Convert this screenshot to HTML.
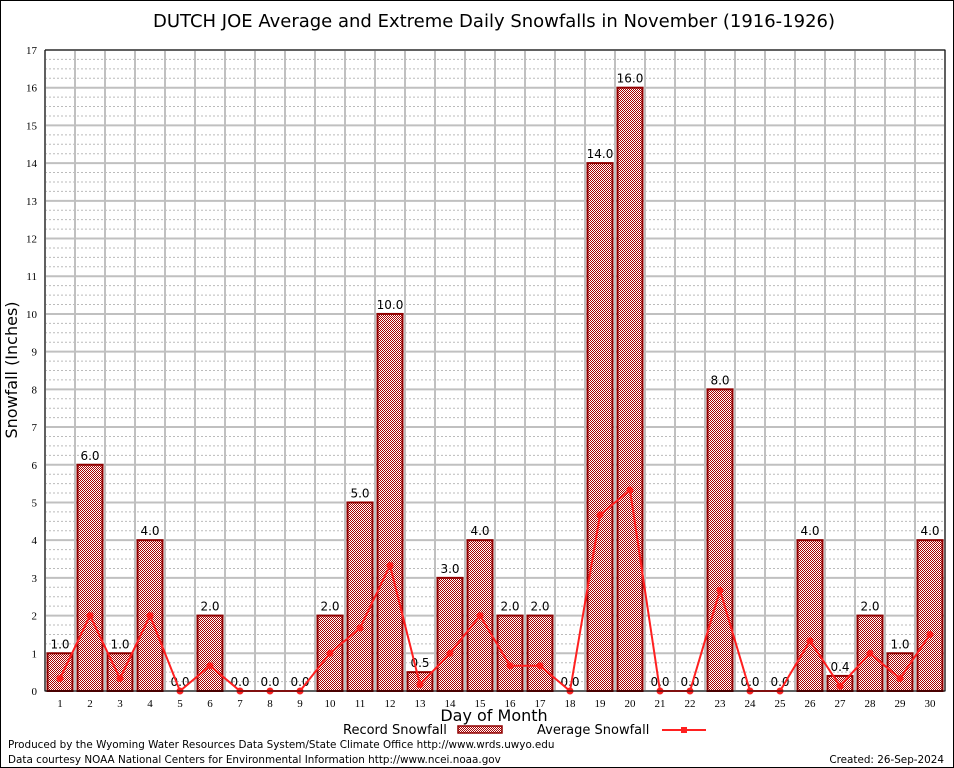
<!DOCTYPE html>
<html><head><meta charset="utf-8"><style>
body{margin:0;background:#fff}
svg{display:block;font-family:"DejaVu Sans","Liberation Sans",sans-serif}
</style></head><body>
<svg id="c" width="954" height="768" xmlns="http://www.w3.org/2000/svg">
<defs>
<pattern id="chk" width="2" height="2" patternUnits="userSpaceOnUse"><rect width="2" height="2" fill="#fff"/><rect width="1" height="1" fill="#a80000"/><rect x="1" y="1" width="1" height="1" fill="#a80000"/></pattern>
</defs>
<rect x="0.5" y="0.5" width="953" height="767" fill="#fff" stroke="#000"/>
<text x="494" y="27" font-size="18" text-anchor="middle">DUTCH JOE Average and Extreme Daily Snowfalls in November (1916-1926)</text>
<g id="grid"></g>
<g id="bars"></g>
<g id="line"></g>
<g id="axes"></g>
<text transform="translate(17,370) rotate(-90)" font-size="16" text-anchor="middle">Snowfall (Inches)</text>
<text x="494" y="721" font-size="16" text-anchor="middle">Day of Month</text>
<g>
<text x="343" y="734" font-size="13">Record Snowfall</text>
<rect x="458" y="726" width="44" height="7" fill="url(#chk)" stroke="#900000" stroke-width="1.5"/>
<text x="537" y="734" font-size="13">Average Snowfall</text>
<line x1="662" y1="730" x2="706" y2="730" stroke="#ff2020" stroke-width="2"/>
<rect x="681" y="727" width="6" height="6" fill="#ff2020"/>
</g>
<text x="8" y="748" font-size="10.4">Produced by the Wyoming Water Resources Data System/State Climate Office http://www.wrds.uwyo.edu</text>
<text x="8" y="763" font-size="10.4">Data courtesy NOAA National Centers for Environmental Information http://www.ncei.noaa.gov</text>
<text x="944" y="763" font-size="10.4" text-anchor="end">Created:  26-Sep-2024</text>
</svg>
<script>
const days=[1,2,3,4,5,6,7,8,9,10,11,12,13,14,15,16,17,18,19,20,21,22,23,24,25,26,27,28,29,30];
const records=[1,6,1,4,0,2,0,0,0,2,5,10,0.5,3,4,2,2,0,14,16,0,0,8,0,0,4,0.4,2,1,4];
const averages=[0.33,2,0.33,2,0,0.67,0,0,0,1,1.67,3.33,0.17,1,2,0.67,0.67,0,4.67,5.33,0,0,2.67,0,0,1.33,0.13,1,0.33,1.5];
const yTicks=[0,1,2,3,4,5,6,7,8,9,10,11,12,13,14,15,16,17];
const L=45,R=945,T=50,B=691,YMAX=17;
const NS="http://www.w3.org/2000/svg";
const slot=(R-L)/days.length;
const x=d=>L+(d-0.5)*slot;
const y=v=>B-v*(B-T)/YMAX;
function mk(tag,attrs,parent,txt){const e=document.createElementNS(NS,tag);for(const k in attrs)e.setAttribute(k,attrs[k]);if(txt!==undefined)e.textContent=txt;parent.appendChild(e);return e;}
const G=document.getElementById('grid'),Bg=document.getElementById('bars'),Lg=document.getElementById('line'),A=document.getElementById('axes');
for(let v=0;v<YMAX;v+=0.25){if(Math.abs(v-Math.round(v))<1e-6)continue;const l=mk('line',{x1:L,x2:R,y1:y(v),y2:y(v),stroke:'#bbb','stroke-dasharray':'2,2','stroke-width':1},G);

}
yTicks.forEach(v=>{const l=mk('line',{x1:L,x2:R,y1:y(v),y2:y(v),stroke:'#c0c0c0','stroke-width':2},G);


const t=mk('text',{x:L-8,y:y(v)+4,'font-size':11,'text-anchor':'end','font-family':'Liberation Serif,serif'},A,String(v));

});
for(let i=0;i<=days.length;i++){const l=mk('line',{x1:L+i*slot,x2:L+i*slot,y1:T,y2:B,stroke:'#c0c0c0','stroke-width':2},G);

}
days.forEach((d,i)=>{const v=records[i];
if(v>0){const r=mk('rect',{x:x(d)-12.5,y:y(v),width:25,height:B-y(v),fill:'url(#chk)',stroke:'#900000','stroke-width':2},Bg);

}
const t=mk('text',{x:x(d),y:y(v)-5,'font-size':12,'text-anchor':'middle'},Bg,v.toFixed(1));


const xt=mk('text',{x:x(d),y:B+16,'font-size':11,'text-anchor':'middle','font-family':'Liberation Serif,serif'},A,String(d));

});
const pts=days.map((d,i)=>x(d)+','+y(averages[i])).join(' ');
const pl=mk('polyline',{points:pts,fill:'none',stroke:'#ff2020','stroke-width':2},Lg);


days.forEach((d,i)=>{const c=mk('circle',{cx:x(d),cy:y(averages[i]),r:3.5,fill:'#ff2020'},Lg);

});
const ax=mk('path',{d:`M${L},${T} V${B} H${R} V${T} H${L}`,fill:'none',stroke:'#000','stroke-width':1},A);


</script>
</body></html>
